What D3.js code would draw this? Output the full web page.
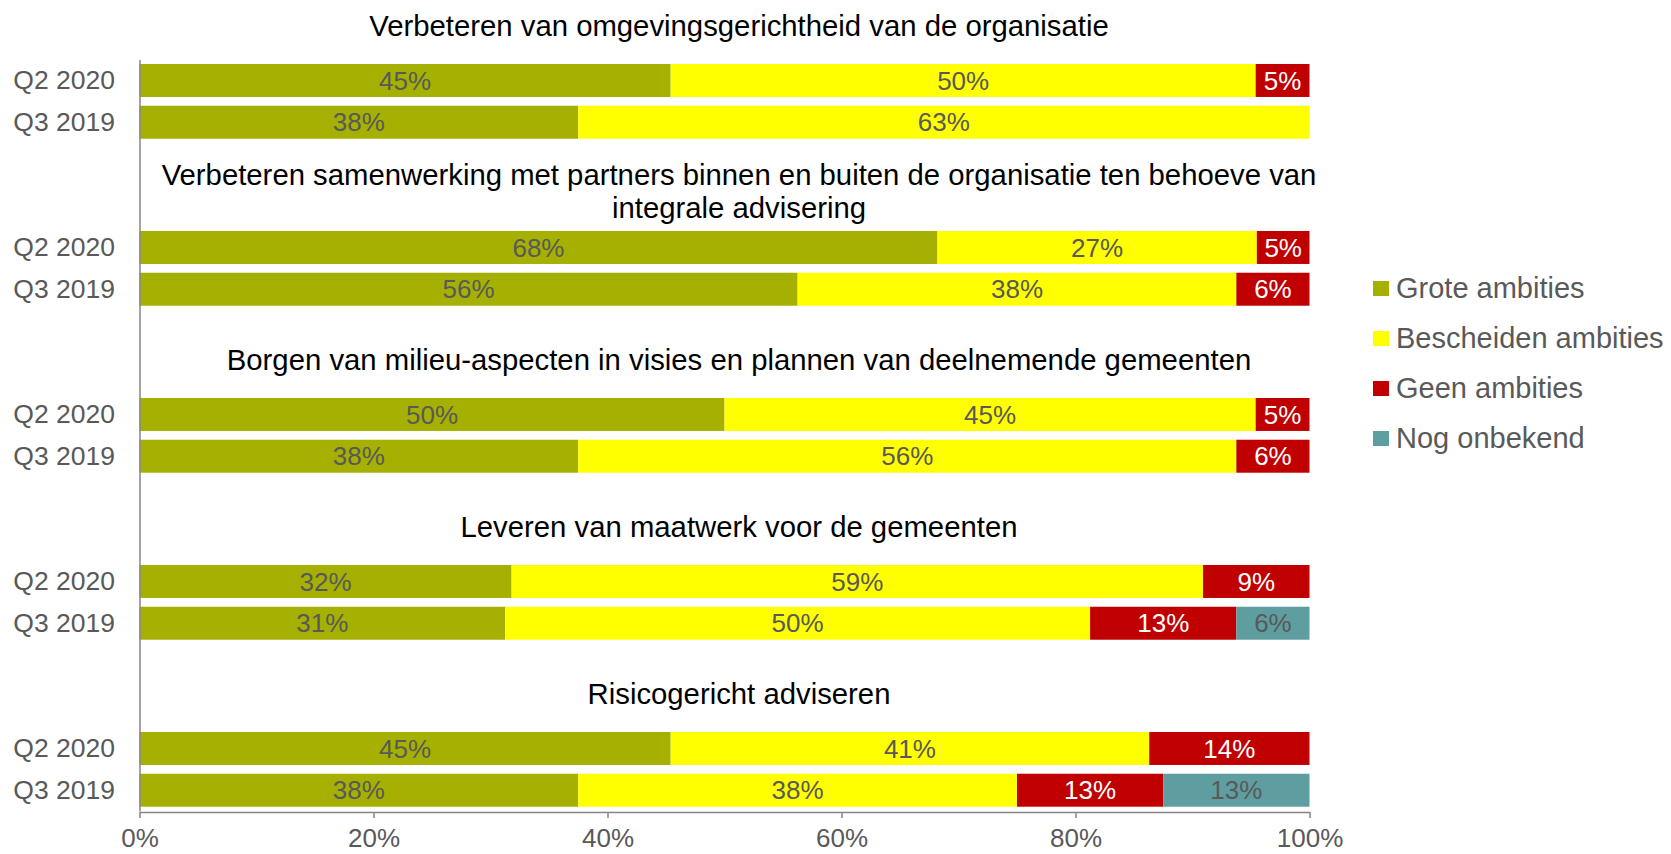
<!DOCTYPE html>
<html>
<head>
<meta charset="utf-8">
<script src="https://cdn.jsdelivr.net/npm/d3@7"></script>
<style>
  body { margin: 0; background: #fff; }
  svg text { font-family: "Liberation Sans", Arial, sans-serif; }
</style>
</head>
<body>
<div id="chart"></div>
<script>
// categories
let Themes = [
  ["Verbeteren van omgevingsgerichtheid van de organisatie"],
  ["Verbeteren samenwerking met partners binnen en buiten de organisatie ten behoeve van", "integrale advisering"],
  ["Borgen van milieu-aspecten in visies en plannen van deelnemende gemeenten"],
  ["Leveren van maatwerk voor de gemeenten"],
  ["Risicogericht adviseren"]
];
let Periods = ["Q2 2020", "Q3 2019"];
let Series = ["Grote ambities", "Bescheiden ambities", "Geen ambities", "Nog onbekend"];
let Ticks = [0, 20, 40, 60, 80, 100];

// series values, one row per theme: [Q2 2020, Q3 2019]
let Grote      = [[45.4, 37.5], [68.2, 56.25], [50.0, 37.5], [31.8, 31.25], [45.4, 37.5]];
let Bescheiden = [[50.0, 62.5], [27.3, 37.5], [45.4, 56.25], [59.1, 50.0], [40.9, 37.5]];
let Geen       = [[4.6, 0],     [4.5, 6.25],  [4.6, 6.25],   [9.1, 12.5],  [13.7, 12.5]];
let Onbekend   = [[0, 0],       [0, 0],       [0, 0],        [0, 6.25],    [0, 12.5]];

let colors = ["#A5B000", "#FFFF00", "#C00000", "#5F9EA0"];
let labelColors = ["#595959", "#595959", "#ffffff", "#595959"];

let svgwidth = 1671, svgheight = 854;
let svg = d3.select("#chart").append("svg")
  .attr("width", svgwidth)
  .attr("height", svgheight);

// rows: two spacer rows before every theme except the first
let rows = [];
let data = [];
Themes.forEach(function(t, i){
  if (i > 0) { rows.push("gap" + i + "a"); rows.push("gap" + i + "b"); }
  Periods.forEach(function(p, j){
    let key = i + "|" + p;
    rows.push(key);
    let vals = [Grote[i][j], Bescheiden[i][j], Geen[i][j], Onbekend[i][j]];
    let x0 = 0;
    vals.forEach(function(v, s){
      data.push({row: key, series: s, start: x0, value: v});
      x0 += v;
    });
  });
});

let xScale = d3.scaleLinear().domain([0, 100]).range([139.5, 1309.5]);
let yScale = d3.scaleBand().domain(rows).range([59.6, 811.1])
  .paddingInner(0.21).paddingOuter(0.105);

// bars
svg.append("g").selectAll("rect")
  .data(data.filter(d => d.value > 0))
  .enter()
  .append("rect")
  .attr("x", d => xScale(d.start))
  .attr("y", d => yScale(d.row))
  .attr("width", d => xScale(Math.min(100, d.start + d.value)) - xScale(d.start))
  .attr("height", yScale.bandwidth())
  .attr("fill", d => colors[d.series]);

// value labels
svg.append("g").selectAll("text")
  .data(data.filter(d => d.value > 0))
  .enter()
  .append("text")
  .attr("x", d => xScale(d.start + d.value / 2))
  .attr("y", d => yScale(d.row) + yScale.bandwidth() / 2)
  .attr("dy", "0.35em")
  .attr("text-anchor", "middle")
  .attr("font-size", "26px")
  .attr("fill", d => labelColors[d.series])
  .text(d => Math.round(d.value) + "%");

// y axis with period labels
let yaxis = d3.axisLeft(yScale)
  .tickValues(rows.filter(r => r.indexOf("|") > 0))
  .tickFormat(r => r.split("|")[1])
  .tickSize(0).tickSizeOuter(0).tickPadding(24.5);
let yg = svg.append("g").attr("transform", `translate(${xScale(0)},0)`).call(yaxis);
yg.select(".domain").attr("stroke", "#868686").attr("stroke-width", 1.5);
yg.selectAll("text").attr("font-size", "26.5px").attr("fill", "#595959")
  .attr("font-family", "Liberation Sans, Arial, sans-serif");

// x axis
let xaxis = d3.axisBottom(xScale).tickValues(Ticks).tickFormat(d => d + "%")
  .tickSize(6).tickSizeOuter(0).tickPadding(11);
let xg = svg.append("g").attr("transform", `translate(0,812)`).call(xaxis);
xg.select(".domain").attr("stroke", "#868686").attr("stroke-width", 1.5);
xg.selectAll("line").attr("stroke", "#868686").attr("stroke-width", 1.5);
xg.selectAll("text").attr("font-size", "26px").attr("fill", "#595959")
  .attr("font-family", "Liberation Sans, Arial, sans-serif");

// theme titles above each pair of bars
Themes.forEach(function(lines, i){
  let top = yScale(i + "|" + Periods[0]);
  let n = lines.length;
  lines.forEach(function(line, k){
    svg.append("text")
      .attr("x", 739)
      .attr("y", top - 28 + (k - (n - 1)) * 33 + (n - 1) * 16.5 - (n - 1) * 1.5)
      .attr("text-anchor", "middle")
      .attr("font-size", "29.3px")
      .attr("fill", "#000")
      .text(line);
  });
});

// legend
let legend = svg.append("g").attr("transform", "translate(1373,288)");
Series.forEach(function(name, i){
  let item = legend.append("g").attr("transform", `translate(0,${i * 50})`);
  item.append("rect").attr("x", 0).attr("y", -7).attr("width", 16).attr("height", 15)
    .attr("fill", colors[i]);
  item.append("text").attr("x", 23).attr("y", 0).attr("dy", "0.35em")
    .attr("font-size", "29px").attr("fill", "#595959").text(name);
});
</script>
</body>
</html>
